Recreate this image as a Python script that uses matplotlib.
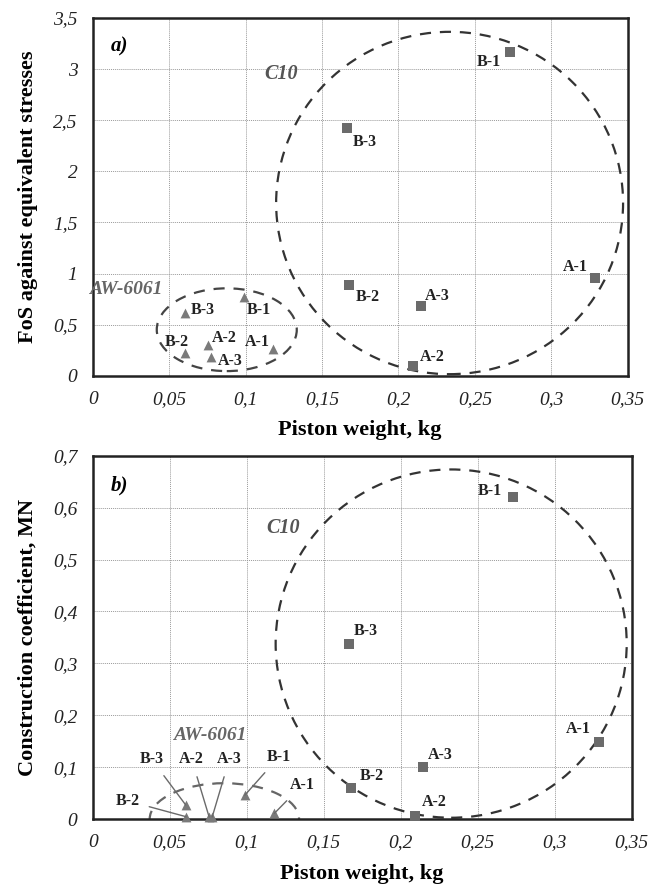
"""Piston weight vs FoS and construction coefficient for C10 and AW-6061 pistons."""
import matplotlib
matplotlib.use("Agg")
import matplotlib.pyplot as plt
from matplotlib.patches import Ellipse
from matplotlib.ticker import FuncFormatter

plt.rcParams["font.family"] = ["Liberation Serif", "DejaVu Serif"]

# C10 (squares) and AW-6061 (triangles) variants
LABELS = ["A-1", "A-2", "A-3", "B-1", "B-2", "B-3"]

c10_weight = [0.3286, 0.2095, 0.2146, 0.2732, 0.1679, 0.1666]
c10_fos = [0.953, 0.095, 0.682, 3.164, 0.89, 2.424]
c10_coef = [0.149, 0.0064, 0.1008, 0.620, 0.0603, 0.3366]

aw_weight = [0.118, 0.0756, 0.0776, 0.0988, 0.0606, 0.0604]
aw_fos = [0.261, 0.30, 0.186, 0.773, 0.219, 0.61]
aw_coef = [0.011, 0.004, 0.004, 0.046, 0.0045, 0.027]

# label positions (data coords)
c10_lab_a = [(0.316, 1.067), (0.222, 0.186), (0.2257, 0.78), (0.2595, 3.07), (0.18, 0.767), (0.1777, 2.29)]
aw_lab_a = [(0.108, 0.333), (0.0859, 0.366), (0.0898, 0.144), (0.1088, 0.643), (0.0549, 0.333), (0.0717, 0.643)]
c10_lab_b = [(0.3153, 0.173), (0.2216, 0.032), (0.2255, 0.123), (0.258, 0.632), (0.1815, 0.083), (0.1775, 0.362)]
aw_lab_b = [(0.136, 0.0655), (0.0643, 0.115), (0.0887, 0.115), (0.121, 0.12), (0.0227, 0.035), (0.0383, 0.115)]

GREY_SQ = "#6b6b6b"
GREY_TR = "#7a7a7a"
DASH = "#333333"


def comma(v, _):
    return ("%g" % round(v, 3)).replace(".", ",")


def style_axes(ax, ymax, ystep, ylabel):
    ax.set_xlim(0, 0.35)
    ax.set_ylim(0, ymax)
    ax.set_xticks([i * 0.05 for i in range(8)])
    ax.set_yticks([i * ystep for i in range(8)])
    ax.xaxis.set_major_formatter(FuncFormatter(comma))
    ax.yaxis.set_major_formatter(FuncFormatter(comma))
    ax.tick_params(length=0, pad=11, labelsize=14, labelcolor="#222222")
    for t in ax.get_xticklabels() + ax.get_yticklabels():
        t.set_fontstyle("italic")
    ax.grid(True, color="#9a9a9a", linestyle=(0, (1, 1)), linewidth=0.7)
    ax.set_axisbelow(True)
    for s in ax.spines.values():
        s.set_linewidth(1.8)
        s.set_color("#222222")
    ax.set_xlabel("Piston weight, kg", fontsize=16, fontweight="bold", labelpad=9)
    ax.set_ylabel(ylabel, fontsize=16, fontweight="bold", labelpad=11)


fig = plt.figure(figsize=(6.6, 8.84), dpi=100)
ax1 = fig.add_axes([0.1405, 0.575, 0.8105, 0.4046])
ax2 = fig.add_axes([0.1405, 0.0735, 0.8165, 0.411])

lab_kw = dict(fontsize=11.5, fontweight="bold", color="#222222", ha="center", va="center")

# ---- panel a)
style_axes(ax1, 3.5, 0.5, "FoS against equivalent stresses")
ax1.add_patch(Ellipse((0.2335, 1.69), 0.227, 3.35, fill=False, ls=(0, (5, 4)),
                      lw=1.6, color=DASH, zorder=2))
ax1.add_patch(Ellipse((0.0877, 0.45), 0.0916, 0.81, fill=False, ls=(0, (5, 4)),
                      lw=1.6, color="#444444", zorder=2))
ax1.scatter(c10_weight, c10_fos, marker="s", s=55, color=GREY_SQ, zorder=3, linewidths=0)
ax1.scatter(aw_weight, aw_fos, marker="^", s=50, color=GREY_TR, zorder=3, linewidths=0)
for name, (x, y) in zip(LABELS, c10_lab_a):
    ax1.text(x, y, name, **lab_kw)
for name, (x, y) in zip(LABELS, aw_lab_a):
    ax1.text(x, y, name, **lab_kw)
ax1.text(0.012, 3.22, "a)", fontsize=15, fontweight="bold", style="italic", va="center")
ax1.text(0.1235, 2.95, "C10", fontsize=14.5, fontweight="bold", style="italic",
         color="#555555", ha="center", va="center")
ax1.text(0.0215, 0.84, "AW-6061", fontsize=14, fontweight="bold", style="italic",
         color="#666666", ha="center", va="center")

# ---- panel b)
style_axes(ax2, 0.7, 0.1, "Construction coefficient, MN")
ax2.add_patch(Ellipse((0.2328, 0.338), 0.228, 0.671, fill=False, ls=(0, (5, 4)),
                      lw=1.6, color=DASH, zorder=2))
ax2.add_patch(Ellipse((0.0855, 0.0), 0.097, 0.138, fill=False, ls=(0, (5, 4)),
                      lw=1.6, color="#666666", zorder=2))
ax2.scatter(c10_weight, c10_coef, marker="s", s=55, color=GREY_SQ, zorder=3,
            linewidths=0, clip_on=False)
ax2.scatter(aw_weight, aw_coef, marker="^", s=50, color=GREY_TR, zorder=3,
            linewidths=0, clip_on=False)
for name, (x, y) in zip(LABELS, c10_lab_b):
    ax2.text(x, y, name, **lab_kw)
for name, (x, y), px, py in zip(LABELS, aw_lab_b, aw_weight, aw_coef):
    ax2.annotate(name, xy=(px, py), xytext=(x, y), textcoords="data",
                 arrowprops=dict(arrowstyle="-", color="#6a6a6a", lw=1.0,
                                 shrinkA=5, shrinkB=0), **lab_kw)
ax2.text(0.012, 0.643, "b)", fontsize=15, fontweight="bold", style="italic", va="center")
ax2.text(0.1235, 0.56, "C10", fontsize=14.5, fontweight="bold", style="italic",
         color="#555555", ha="center", va="center")
ax2.text(0.0762, 0.16, "AW-6061", fontsize=14, fontweight="bold", style="italic",
         color="#666666", ha="center", va="center")

fig.savefig("out.png", dpi=100)
